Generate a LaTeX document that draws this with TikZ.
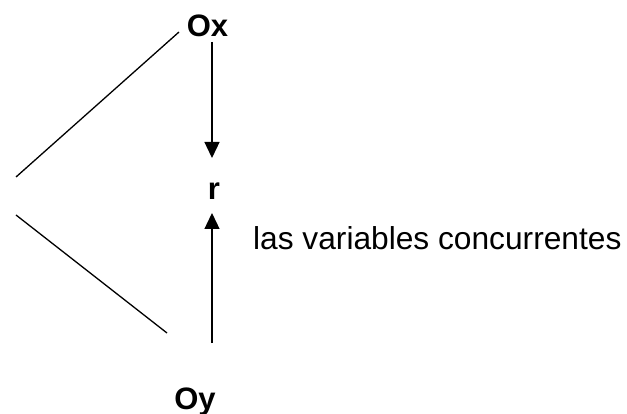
\documentclass[tikz,border=0pt]{standalone}
\usepackage{fontspec}
\setmainfont{Liberation Sans}
\usetikzlibrary{arrows.meta}
\begin{document}
\begin{tikzpicture}[x=1pt,y=-1pt,
  lbl/.style={inner sep=0pt,font=\fontsize{31}{37}\selectfont\bfseries},
  txt/.style={inner sep=0pt,font=\fontsize{31.7}{38}\selectfont},
  ln/.style={line width=1.3pt,black},
  arr/.style={ln,-{Triangle[width=15pt,length=16pt]}}]
\useasboundingbox (0,0) rectangle (627,414);

% labels
\node[lbl,anchor=base] (ox) at (207.5,37) {Ox};
\node[lbl,anchor=base] (r) at (214,200) {r};
\node[lbl,anchor=base] (oy) at (195,409) {Oy};
\node[txt,anchor=base west] (conc) at (253,250) {las variables concurrentes};

% connector ends
\coordinate (ox-out) at (212,42);
\coordinate (r-top) at (212,158);
\coordinate (oy-out) at (212,343);
\coordinate (r-bot) at (212,213);
\coordinate (u1) at (179,32);
\coordinate (u2) at (16,177);
\coordinate (d1) at (16,215);
\coordinate (d2) at (167,333);

% lines
\draw[ln] (u1) -- (u2);
\draw[ln] (d1) -- (d2);
\draw[arr] (ox-out) -- (r-top);
\draw[arr] (oy-out) -- (r-bot);
\end{tikzpicture}
\end{document}
